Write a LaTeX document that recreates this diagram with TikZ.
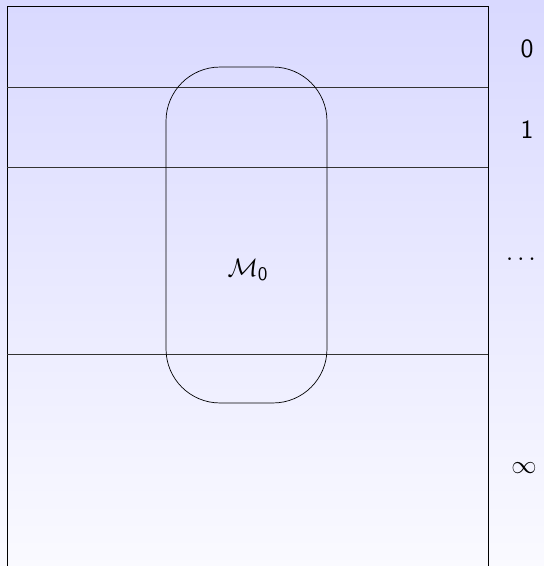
\documentclass[tikz,border=0pt]{standalone}
\usepackage{amsmath}
\usepackage{tikz}
\renewcommand{\familydefault}{\sfdefault}

\tikzset{
  level/.style={font=\fontsize{15}{18}\selectfont, inner sep=0pt},
}

\begin{document}
\begin{tikzpicture}[x=0.02cm, y=-0.02cm]
\useasboundingbox (0, 0) rectangle (544, 566);
\fill[top color=blue!15, bottom color=blue!2] (0, 0) rectangle (544, 566);
\coordinate (0) at (7, 566);
\coordinate (1) at (7, 6);
\coordinate (2) at (488, 6);
\coordinate (3) at (488, 566);
\coordinate (4) at (7, 87);
\coordinate (5) at (488, 87);
\coordinate (6) at (7, 167);
\coordinate (7) at (488, 167);
\coordinate (8) at (7, 354);
\coordinate (9) at (488, 354);
\draw (0) -- (1) -- (2) -- (3);
\draw[black!80] (4) -- (5);
\draw[black!80] (6) -- (7);
\draw[black!80] (8) -- (9);
\node[draw, rounded corners=1.08cm, minimum width=3.22cm, minimum height=6.72cm, inner sep=0pt] (10) at (246.5, 235) {};
\node[level] (11) at (248, 270) {\(\mathcal{M}_{\mathsf{0}}\)};
\node[level] (12) at (527, 49) {0};
\node[level] (13) at (527, 130) {1};
\node[level] (14) at (521, 260) {\(\cdots\)};
\node[level] (15) at (524, 468) {\(\infty\)};
\end{tikzpicture}
\end{document}
